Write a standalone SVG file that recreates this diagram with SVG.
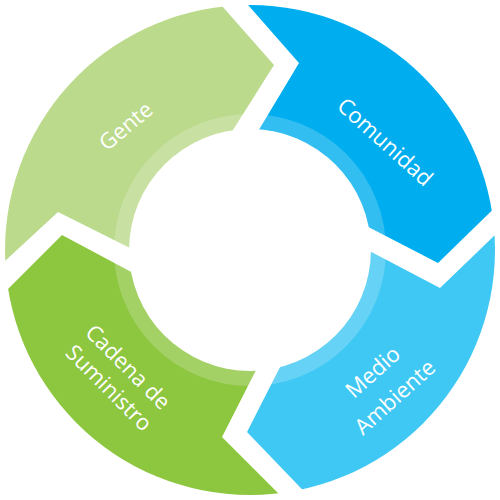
<svg xmlns="http://www.w3.org/2000/svg" width="500" height="500" viewBox="0 0 500 500">
  <defs>
    <clipPath id="disc">
      <circle cx="250" cy="250" r="245"/>
    </clipPath>
    <style>
      .lbl { fill: #ffffff; font-family: "Open Sans", "Noto Sans", "Liberation Sans", sans-serif; font-size: 22px; text-anchor: middle; dominant-baseline: central; }
      .ring { fill: none; stroke: #ffffff; stroke-opacity: 0.2; stroke-width: 15; }
    </style>
  </defs>
  <rect width="500" height="500" fill="#ffffff"/>
  <g clip-path="url(#disc)">
    <g id="gente">
      <polygon fill="#BBDA8C" points="250,250 200,182 233,130 274,65 200,-19 -20,-19 -20,284 58,212 180,273"/>
    </g>
    <g id="comunidad">
      <polygon fill="#00AEEF" points="250,250 230,178 299,63 227,-19 520,-19 520,183 438,263 320,202"/>
    </g>
    <g id="medio-ambiente">
      <polygon fill="#40C8F4" points="250,250 320,225 440,288 520,211 520,520 320,508 247,432 305,318"/>
    </g>
    <g id="cadena-suministro">
      <polygon fill="#8DC63F" points="250,250 280,323 222,437 297,512 -20,520 -20,317 62,235 180,298"/>
    </g>
  </g>
  <circle cx="250" cy="250" r="121" fill="#ffffff"/>
  <circle class="ring" cx="250" cy="250" r="128.5"/>
  <g id="labels">
    <text class="lbl" transform="translate(125,125) rotate(-40)">Gente</text>
    <text class="lbl" transform="translate(386,141) rotate(42)">Comunidad</text>
    <text class="lbl" transform="translate(372,371) rotate(-42)">Medio</text>
    <text class="lbl" transform="translate(394,396) rotate(-42)">Ambiente</text>
    <text class="lbl" transform="translate(129,366) rotate(45)">Cadena de</text>
    <text class="lbl" transform="translate(110,387) rotate(45)">Suministro</text>
  </g>
</svg>
